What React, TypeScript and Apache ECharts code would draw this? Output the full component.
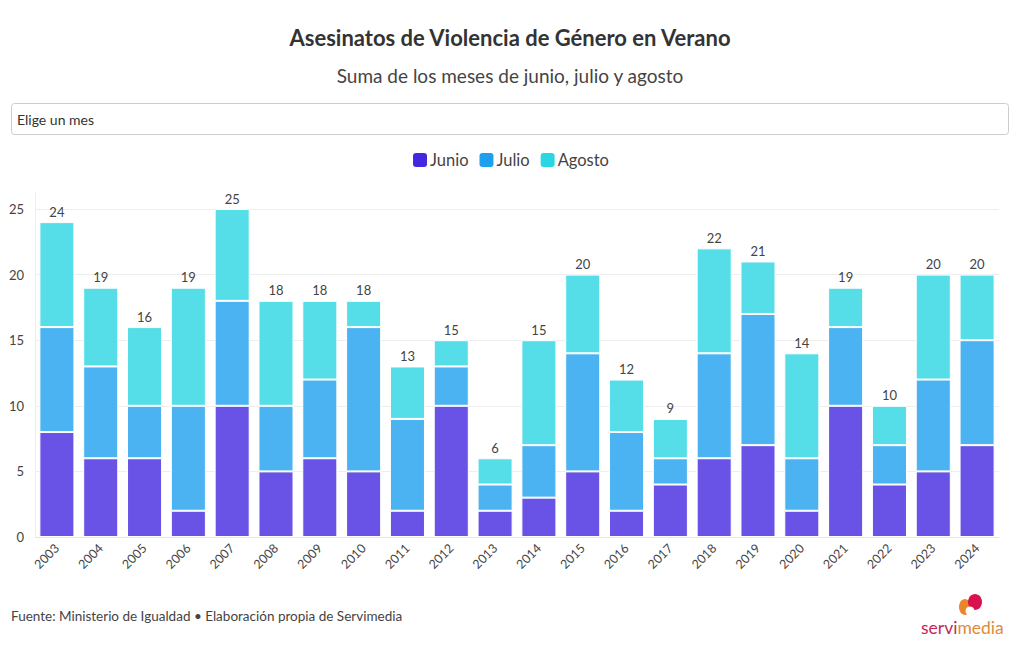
import React, { useEffect, useRef } from "react";
import * as echarts from "echarts";

const years = ["2003","2004","2005","2006","2007","2008","2009","2010","2011","2012","2013","2014","2015","2016","2017","2018","2019","2020","2021","2022","2023","2024"];
const junio = [8, 6, 6, 2, 10, 5, 6, 5, 2, 10, 2, 3, 5, 2, 4, 6, 7, 2, 10, 4, 5, 7];
const julio = [8, 7, 4, 8, 8, 5, 6, 11, 7, 3, 2, 4, 9, 6, 2, 8, 10, 4, 6, 3, 7, 8];
const agosto = [8, 6, 6, 9, 7, 8, 6, 2, 4, 2, 2, 8, 6, 4, 3, 8, 4, 8, 3, 3, 8, 5];
const yTicks = [0, 5, 10, 15, 20, 25];

const FONT = "Lato, 'Noto Sans', sans-serif";
const legendColors = ["#4328e0", "#1ea0ee", "#2ad6e2"];
const barColors = ["#6953e6", "#4bb3f1", "#55dee8"];

export default function App() {
  const ref = useRef<HTMLDivElement>(null);
  useEffect(() => {
    document.body.style.margin = "0";
    if (!ref.current) return;
    const chart = echarts.init(ref.current, undefined, { renderer: "svg" });
    const totals = years.map((_, i) => junio[i] + julio[i] + agosto[i]);
    const names = ["Junio", "Julio", "Agosto"];
    const datas = [junio, julio, agosto];
    chart.setOption({
      animation: false,
      textStyle: { fontFamily: FONT },
      title: [
        {
          text: "Asesinatos de Violencia de Género en Verano",
          left: "center",
          top: 26,
          padding: 0,
          textStyle: { fontFamily: FONT, fontSize: 22, fontWeight: "bold", color: "#333" },
        },
        {
          text: "Suma de los meses de junio, julio y agosto",
          left: "center",
          top: 66,
          padding: 0,
          textStyle: { fontFamily: FONT, fontSize: 19, fontWeight: "normal", color: "#444" },
        },
        {
          text: "Fuente: Ministerio de Igualdad • Elaboración propia de Servimedia",
          left: 11,
          top: 609,
          padding: 0,
          textStyle: { fontFamily: FONT, fontSize: 13.5, fontWeight: "normal", color: "#444" },
        },
      ],
      legend: {
        top: 151,
        left: "center",
        padding: 0,
        icon: "roundRect",
        itemWidth: 16,
        itemHeight: 16,
        itemGap: 9,
        textStyle: { fontFamily: FONT, fontSize: 16.5, color: "#444", padding: [0, 0, 0, -3] },
        data: names.map((n, i) => ({ name: n, itemStyle: { color: legendColors[i] } })),
      },
      grid: { left: 35, right: 21, top: 209, bottom: 113, containLabel: false },
      xAxis: {
        type: "category",
        data: years,
        axisLine: { show: true, lineStyle: { color: "#e6e6e6" } },
        axisTick: { show: false },
        axisLabel: { rotate: 45, fontFamily: FONT, fontSize: 12.5, color: "#444", margin: 9, padding: [0, 0, 0, 0] },
      },
      yAxis: {
        type: "value",
        min: 0,
        max: 25,
        interval: 5,
        axisLine: { show: false },
        axisTick: { show: false },
        axisLabel: {
          fontFamily: FONT,
          fontSize: 13,
          color: "#444",
          margin: 11,
          formatter: (v: number) => (yTicks.includes(v) ? String(v) : ""),
        },
        splitLine: { lineStyle: { color: "#eeeeee" } },
      },
      series: names.map((n, i) => ({
        name: n,
        type: "bar",
        stack: "total",
        data: datas[i],
        barCategoryGap: "20%",
        itemStyle: { color: barColors[i], borderColor: "#ffffff", borderWidth: 1 },
        emphasis: { disabled: true },
        label:
          i === 2
            ? {
                show: true,
                position: "top",
                distance: 4,
                fontFamily: FONT,
                fontSize: 13,
                color: "#444",
                formatter: (p: any) => String(totals[p.dataIndex]),
              }
            : { show: false },
      })),
      graphic: [
        {
          type: "rect",
          shape: { x: 11.5, y: 103.5, width: 997, height: 31, r: 3 },
          style: { fill: "#fff", stroke: "#cccccc", lineWidth: 1 },
        },
        {
          type: "text",
          x: 17,
          y: 119,
          style: { text: "Elige un mes", font: `14px ${FONT}`, fill: "#333", verticalAlign: "middle" },
        },
        {
          type: "line",
          shape: { x1: 35.5, y1: 192, x2: 35.5, y2: 537 },
          style: { stroke: "#eeeeee", lineWidth: 1 },
        },
        // logo
        {
          type: "group",
          children: [
            { type: "ellipse", shape: { cx: 965, cy: 607, rx: 6, ry: 8 }, style: { fill: "#e9852c" } },
            { type: "ellipse", shape: { cx: 975, cy: 602, rx: 7, ry: 8 }, style: { fill: "#d9124e" } },
            { type: "circle", shape: { cx: 970, cy: 611, r: 4.5 }, style: { fill: "#ffffff" } },
            {
              type: "text",
              x: 921,
              y: 627,
              style: {
                text: "{a|servi}{b|media}",
                verticalAlign: "middle",
                rich: {
                  a: { fontFamily: FONT, fontSize: 17.5, fill: "#c8245a", color: "#c8245a" },
                  b: { fontFamily: FONT, fontSize: 17.5, fill: "#e08a3c", color: "#e08a3c" },
                },
              },
            },
          ],
        },
      ],
    });
    return () => chart.dispose();
  }, []);
  return <div ref={ref} style={{ width: 1020, height: 650 }} />;
}
